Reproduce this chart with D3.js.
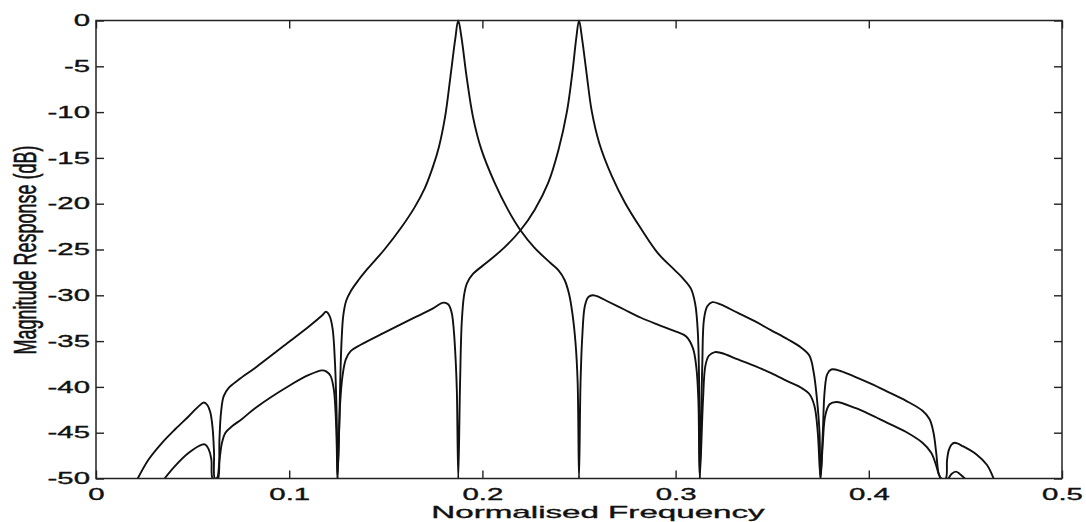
<!DOCTYPE html>
<html>
<head>
<meta charset="utf-8">
<script src="https://cdn.jsdelivr.net/npm/d3@7"></script>
<style>
  html, body { margin: 0; padding: 0; background: #fff; }
  svg { display: block; }
  text { font-family: "Liberation Sans", Arial, Helvetica, sans-serif; fill: #111; stroke: #111; stroke-width: 0.35px; }
</style>
</head>
<body>
<svg id="chart" width="1086" height="522"></svg>
<script>
// Axis ticks
const xTicks = [0, 0.1, 0.2, 0.3, 0.4, 0.5];
const yTicks = [0, -5, -10, -15, -20, -25, -30, -35, -40, -45, -50];

// Axis titles
const xTitle = "Normalised Frequency";
const yTitle = "Magnitude Response (dB)";

// Magnitude response of the channel centred on 3/16 ([frequency, dB])
const band3 = [
  [0.0216,-50],[0.0273,-47.9],[0.0342,-46.1],[0.0411,-44.6],[0.0480,-43.2],[0.0532,-42.1],[0.0558,-41.7],
  [0.0577,-42.0],[0.0592,-42.8],[0.0604,-44.6],[0.0611,-47.2],[0.0615,-50],[0.0625,-50],
  [0.0632,-50],[0.0639,-45.7],[0.0647,-42.8],[0.0661,-41.0],[0.0687,-40.1],[0.0739,-39.2],[0.0825,-37.9],
  [0.0998,-35.1],[0.1102,-33.4],[0.1170,-32.2],[0.1191,-31.8],[0.1210,-32.3],[0.1225,-33.7],[0.1237,-37.4],
  [0.1243,-41.0],[0.1247,-44.6],[0.1250,-50],
  [0.1258,-45.0],[0.1264,-39.5],[0.1271,-35.0],[0.1280,-32.2],[0.1295,-30.6],[0.1320,-29.5],[0.1360,-28.3],
  [0.1406,-27.1],[0.1493,-25.0],[0.1580,-22.6],[0.1649,-20.4],[0.1702,-18.3],[0.1745,-15.9],[0.1775,-13.8],
  [0.1807,-10.5],[0.1833,-6.4],[0.1859,-2.1],[0.1875,0],
  [0.1892,-1.9],[0.1918,-6.1],[0.1952,-10.6],[0.1995,-14.1],[0.2063,-17.7],[0.2132,-20.65],[0.2197,-22.9],
  [0.2269,-24.8],[0.2354,-26.5],[0.2395,-27.3],[0.2425,-28.3],[0.2448,-29.8],[0.2466,-32.0],[0.2482,-35.2],
  [0.2493,-39.5],[0.2500,-50],
  [0.2508,-39.5],[0.2517,-34.5],[0.2530,-31.2],[0.2548,-30.2],[0.2572,-30.0],[0.2605,-30.2],[0.2647,-30.65],
  [0.2734,-31.55],[0.2821,-32.45],[0.2908,-33.2],[0.2995,-33.9],[0.3055,-34.5],[0.3090,-35.8],[0.3108,-38.0],
  [0.3118,-41.5],[0.3125,-50],
  [0.3142,-41.4],[0.3154,-37.7],[0.3172,-36.6],[0.3203,-36.2],[0.3237,-36.3],[0.3323,-37.0],[0.3409,-37.7],
  [0.3495,-38.5],[0.3581,-39.4],[0.3650,-40.1],[0.3693,-40.8],[0.3719,-42.1],[0.3736,-45.0],[0.3750,-50],
  [0.3762,-46.1],[0.3774,-43.2],[0.3797,-41.9],[0.3832,-41.65],[0.3929,-42.3],[0.4016,-43.1],[0.4104,-44.0],
  [0.4191,-44.9],[0.4278,-46.1],[0.4323,-47.2],[0.4349,-48.6],[0.4362,-49.5],[0.4375,-50],
  [0.4410,-50],[0.4428,-49.5],[0.4450,-49.25],[0.4471,-49.5],[0.4497,-50]
];

// Magnitude response of the channel centred on 4/16 ([frequency, dB])
const band4 = [
  [0.0355,-50],[0.0411,-48.6],[0.0480,-47.2],[0.0549,-46.3],[0.0566,-46.3],[0.0583,-46.8],[0.0597,-47.9],
  [0.0604,-50],[0.0625,-50],
  [0.0639,-48.0],[0.0652,-46.1],[0.0670,-45.0],[0.0704,-44.3],[0.0756,-43.5],[0.0825,-42.3],[0.0998,-39.9],
  [0.1102,-38.7],[0.1170,-38.2],[0.1191,-38.3],[0.1214,-38.8],[0.1231,-40.3],[0.1240,-42.8],[0.1246,-46.4],
  [0.1250,-50],
  [0.1264,-41.7],[0.1276,-38.8],[0.1293,-37.0],[0.1318,-36.1],[0.1370,-35.4],[0.1490,-34.1],[0.1575,-33.2],
  [0.1661,-32.3],[0.1747,-31.4],[0.1798,-30.8],[0.1824,-31.0],[0.1841,-31.9],[0.1853,-34.1],[0.1863,-37.7],
  [0.1868,-40.6],[0.1875,-50],
  [0.1884,-40.0],[0.1893,-33.0],[0.1905,-30.0],[0.1920,-28.7],[0.1950,-27.7],[0.2024,-26.4],[0.2113,-24.8],
  [0.2197,-22.9],[0.2271,-20.65],[0.2341,-17.7],[0.2394,-14.1],[0.2438,-9.9],[0.2465,-5.8],[0.2486,-1.9],
  [0.2500,0],
  [0.2516,-2.0],[0.2540,-5.9],[0.2566,-9.9],[0.2605,-13.4],[0.2670,-17.0],[0.2738,-19.9],[0.2823,-22.8],
  [0.2908,-25.4],[0.2993,-27.2],[0.3040,-28.2],[0.3080,-29.3],[0.3102,-31.0],[0.3115,-34.0],[0.3121,-38.5],
  [0.3125,-50],
  [0.3138,-37.7],[0.3147,-32.6],[0.3164,-31.2],[0.3190,-30.75],[0.3233,-31.0],[0.3320,-31.9],[0.3407,-32.8],
  [0.3493,-33.8],[0.3580,-34.8],[0.3649,-35.7],[0.3693,-36.6],[0.3715,-38.45],[0.3732,-41.4],[0.3745,-45.0],
  [0.3750,-50],
  [0.3762,-45.0],[0.3771,-40.6],[0.3785,-38.6],[0.3806,-38.1],[0.3858,-38.3],[0.3929,-38.9],[0.4016,-39.7],
  [0.4104,-40.6],[0.4191,-41.5],[0.4278,-42.6],[0.4314,-43.5],[0.4335,-45.0],[0.4349,-47.2],[0.4362,-49.5],
  [0.4375,-50],
  [0.4398,-50],[0.4405,-48.0],[0.4414,-46.9],[0.4428,-46.3],[0.4445,-46.1],[0.4489,-46.5],[0.4559,-47.4],
  [0.4611,-48.5],[0.4646,-50]
];

const svg = d3.select("#chart");
const plot = { left: 96, right: 1062, top: 20.5, bottom: 478.5 };
const textStretch = 1.78;   // wide lettering of the printed figure
const tickLen = 8;

const x = d3.scaleLinear().domain([0, 0.5]).range([plot.left, plot.right]);
const y = d3.scaleLinear().domain([-50, 0]).range([plot.bottom, plot.top]);

svg.append("defs").append("clipPath").attr("id", "plot-clip")
  .append("rect")
  .attr("x", plot.left).attr("y", plot.top - 1.5)
  .attr("width", plot.right - plot.left).attr("height", plot.bottom - plot.top + 1.5);

// Response curves
const line = d3.line()
  .x(d => x(d[0]))
  .y(d => y(d[1]))
  .curve(d3.curveCatmullRom.alpha(0.5));

svg.append("g").attr("clip-path", "url(#plot-clip)")
  .selectAll("path")
  .data([band3, band4])
  .join("path")
  .attr("d", line)
  .attr("fill", "none")
  .attr("stroke", "#111")
  .attr("stroke-width", 1.9)
  .attr("stroke-linejoin", "round");

// Axes with inward ticks on all four sides
function styleAxis(g) {
  g.select(".domain").remove();
  g.selectAll(".tick line").attr("stroke", "#222").attr("stroke-width", 1.4);
  g.selectAll(".tick text")
    .attr("font-size", 16.5)
    .attr("fill", "#111");
}

const fmt = d => String(d);

const gLeft = svg.append("g")
  .attr("transform", `translate(${plot.left},0)`)
  .call(d3.axisLeft(y).tickValues(yTicks).tickFormat(fmt)
        .tickSizeInner(-tickLen).tickSizeOuter(0).tickPadding(6))
  .call(styleAxis);
gLeft.selectAll(".tick text")
  .attr("x", -6 / textStretch)
  .attr("transform", `scale(${textStretch},1)`);

const gBottom = svg.append("g")
  .attr("transform", `translate(0,${plot.bottom})`)
  .call(d3.axisBottom(x).tickValues(xTicks).tickFormat(fmt)
        .tickSizeInner(-tickLen).tickSizeOuter(0).tickPadding(9.5))
  .call(styleAxis);
gBottom.selectAll(".tick text")
  .attr("transform", `scale(${textStretch},1)`);

svg.append("g")
  .attr("transform", `translate(${plot.right},0)`)
  .call(d3.axisRight(y).tickValues(yTicks).tickFormat("")
        .tickSizeInner(-tickLen).tickSizeOuter(0))
  .call(styleAxis);

svg.append("g")
  .attr("transform", `translate(0,${plot.top})`)
  .call(d3.axisTop(x).tickValues(xTicks).tickFormat("")
        .tickSizeInner(-tickLen).tickSizeOuter(0))
  .call(styleAxis);

// Box around the plot area
svg.append("rect")
  .attr("x", plot.left).attr("y", plot.top)
  .attr("width", plot.right - plot.left).attr("height", plot.bottom - plot.top)
  .attr("fill", "none").attr("stroke", "#222").attr("stroke-width", 1.5);

// Axis titles
svg.append("text")
  .attr("transform", `translate(598,518) scale(1.95,1)`)
  .attr("text-anchor", "middle")
  .attr("font-size", 17)
  .text(xTitle);

svg.append("text")
  .attr("transform", `translate(35.5,250) scale(1.7,1) rotate(-90)`)
  .attr("text-anchor", "middle")
  .attr("font-size", 18)
  .text(yTitle);
</script>
</body>
</html>
